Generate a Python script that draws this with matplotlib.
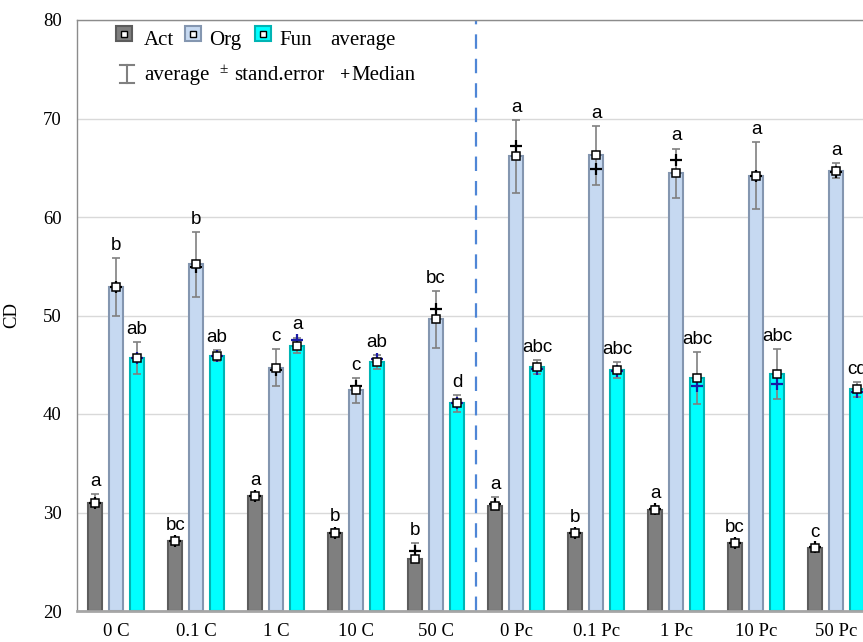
import numpy as np
import matplotlib
matplotlib.use("Agg")
import matplotlib.pyplot as plt
from matplotlib.patches import Rectangle
from matplotlib.lines import Line2D

groups = ["0 C", "0.1 C", "1 C", "10 C", "50 C", "0 Pc", "0.1 Pc", "1 Pc", "10 Pc", "50 Pc"]

act_mean = [31.0, 27.1, 31.7, 27.9, 25.3, 30.7, 27.95, 30.25, 26.9, 26.4]
act_se = [0.85, 0.3, 0.25, 0.4, 1.6, 0.9, 0.25, 0.4, 0.3, 0.3]
act_med = [31.0, 27.1, 31.7, 27.9, 26.1, 30.9, 27.95, 30.4, 26.9, 26.5]
act_let = ["a", "bc", "a", "b", "b", "a", "b", "a", "bc", "c"]

org_mean = [52.9, 55.2, 44.7, 42.4, 49.6, 66.15, 66.25, 64.45, 64.2, 64.7]
org_se = [2.9, 3.3, 1.85, 1.25, 2.9, 3.7, 3.0, 2.5, 3.4, 0.75]
org_med = [52.9, 54.95, 44.5, 42.8, 50.65, 67.2, 64.85, 65.75, 64.2, 64.6]
org_let = ["b", "b", "c", "c", "bc", "a", "a", "a", "a", "a"]

fun_mean = [45.7, 45.9, 46.95, 45.25, 41.1, 44.75, 44.45, 43.65, 44.05, 42.5]
fun_se = [1.6, 0.55, 0.8, 0.7, 0.85, 0.7, 0.8, 2.65, 2.5, 0.75]
fun_med = [45.7, 45.9, 47.5, 45.6, 41.1, 44.6, 44.4, 42.85, 43.0, 42.25]
fun_let = ["ab", "ab", "a", "ab", "d", "abc", "abc", "abc", "abc", "cd"]

W, H = 863, 642
fig = plt.figure(figsize=(W / 100, H / 100), dpi=100)


def px(x, y):
    return x / W, 1 - y / H


# axes run past the right edge of the figure
ax = fig.add_axes([77 / W, 31 / H, 799 / W, 591 / H])
x = np.arange(len(groups))
bw = 0.18
off = 0.262

series = [
    (act_mean, act_se, act_med, act_let, -off, "#7f7f7f", "#5c5c5c", "black"),
    (org_mean, org_se, org_med, org_let, 0.0, "#c6d9f1", "#8496b0", "black"),
    (fun_mean, fun_se, fun_med, fun_let, off, "#00ffff", "#00b4b4", "#1a1aa6"),
]

for mean, se, med, let, dx, fc, ec, mc in series:
    xs = x + dx
    ax.bar(xs, np.array(mean) - 20, bottom=20, width=bw, color=fc, edgecolor=ec,
           linewidth=1.5, zorder=2)
    ax.errorbar(xs, mean, yerr=se, fmt="none", ecolor="#808080", elinewidth=1.2,
                capsize=3, capthick=1.2, zorder=3)
    ax.plot(xs, med, "+", color=mc, ms=8, mew=1.6, zorder=4)
    ax.plot(xs, mean, "s", mfc="white", mec="black", ms=6, mew=1.1, zorder=5)
    for xi, m, s, t in zip(xs, mean, se, let):
        ax.annotate(t, (xi, m + s), xytext=(0, 3), textcoords="offset points",
                    ha="center", va="bottom", fontsize=13.5,
                    family="Liberation Sans", zorder=6)

ax.axvline(4.5, color="#4f86d6", lw=1.6, ls=(0, (6.5, 4.5)), zorder=1)

ax.set_xlim(-0.49, 9.5)
ax.set_ylim(20, 80)
ax.set_yticks(range(20, 81, 10))
ax.yaxis.grid(True, color="#d9d9d9", lw=1)
ax.set_axisbelow(True)
ax.set_xticks(x)
ax.set_xticklabels(groups)
ax.tick_params(length=0, labelsize=13.5, labelfontfamily="Liberation Serif")
ax.tick_params(axis="x", pad=9)
ax.tick_params(axis="y", pad=11)
ax.set_ylabel("CD", fontsize=13.5, family="Liberation Serif")
ax.yaxis.set_label_coords(-0.0713, 0.5)

for s in ["left", "top"]:
    ax.spines[s].set_color("#8c8c8c")
    ax.spines[s].set_linewidth(1)
ax.spines["right"].set_visible(False)
ax.spines["bottom"].set_color("#a6a6a6")
ax.spines["bottom"].set_linewidth(2)

# legend, drawn by hand
lfont = dict(fontsize=15, family="Liberation Serif", va="baseline", ha="left")
for (lx, fc, ec) in [(116, "#7f7f7f", "#5c5c5c"), (185, "#c6d9f1", "#8496b0"),
                     (255, "#00ffff", "#00b4b4")]:
    x0, y0 = px(lx, 41)
    fig.patches.append(Rectangle((x0, y0), 16 / W, 15 / H, transform=fig.transFigure,
                                 facecolor=fc, edgecolor=ec, lw=1.5))
    cx, cy = px(lx + 8, 33.5)
    fig.lines.append(Line2D([cx], [cy], marker="s", ms=4.5, mfc="white", mec="black",
                            mew=1, transform=fig.transFigure))
fig.text(*px(144, 45), "Act", **lfont)
fig.text(*px(209, 45), "Org", **lfont)
fig.text(*px(279, 45), "Fun", **lfont)
fig.text(*px(330, 45), "average", **lfont)

ix = 127
fig.lines.append(Line2D([px(ix, 0)[0]] * 2, [px(0, 65)[1], px(0, 83)[1]],
                        color="#808080", lw=1.5, transform=fig.transFigure))
for yy in (65, 83):
    fig.lines.append(Line2D([px(ix - 7, 0)[0], px(ix + 7, 0)[0]], [px(0, yy)[1]] * 2,
                            color="#808080", lw=1.5, transform=fig.transFigure))
fig.text(*px(144, 80), "average", **lfont)
fig.text(*px(219, 73), "±", fontsize=11, family="Liberation Serif", va="baseline", ha="left")
fig.text(*px(234, 80), "stand.error", **lfont)
fig.text(*px(340, 80), "+", fontsize=13, family="Liberation Serif", weight="bold",
         va="baseline", ha="left")
fig.text(*px(351, 80), "Median", **lfont)

fig.savefig("out.png", dpi=100)
